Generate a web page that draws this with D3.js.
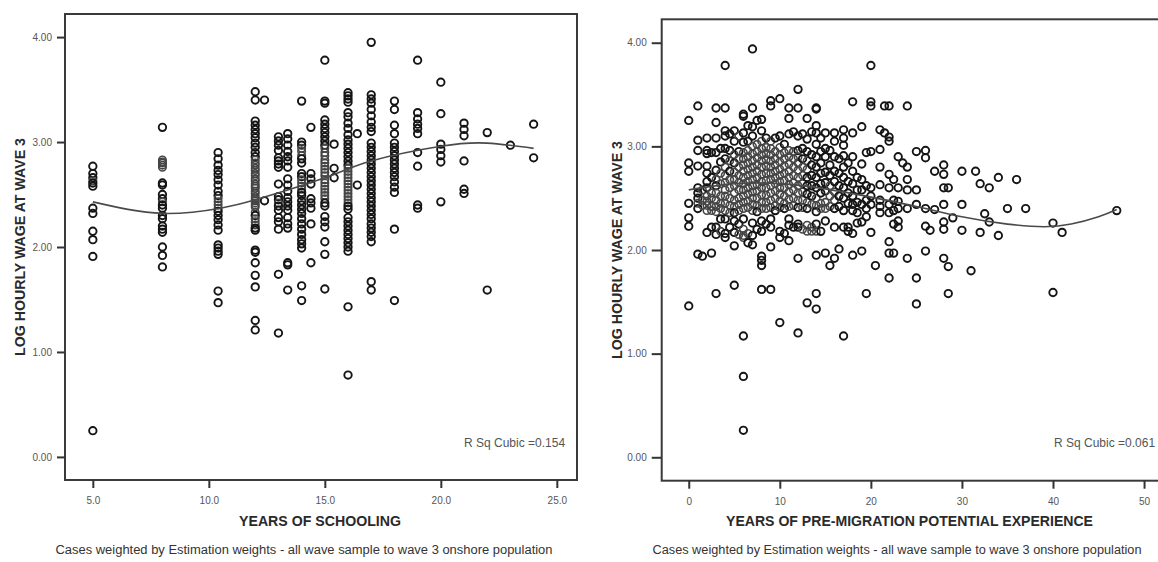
<!DOCTYPE html>
<html>
<head>
<meta charset="utf-8">
<script src="https://cdn.jsdelivr.net/npm/d3@7"></script>
<style>
  html, body { margin: 0; padding: 0; background: #fff; }
  svg { display: block; }
  text { font-family: "Liberation Sans", Arial, sans-serif; }
</style>
</head>
<body>
<svg id="chart" width="1158" height="562"></svg>
<script>
// ---- Panel 1: log hourly wage by years of schooling (values grouped by x) ----
const schoolingYears = [5, 8, 10.4, 12, 12.4, 13, 13.4, 14, 14.4, 15, 15.4, 16, 16.4, 17, 18, 19, 20, 21, 22, 23, 24];
const schoolingWages = [
  [2.77, 2.70, 2.66, 2.63, 2.61, 2.58, 2.37, 2.32, 2.15, 2.07, 1.91, 0.25],
  [3.14, 2.83, 2.81, 2.80, 2.78, 2.76, 2.61, 2.59, 2.50, 2.46, 2.43, 2.40, 2.37, 2.30, 2.27, 2.20, 2.17, 2.14, 2.00, 1.92, 1.81],
  [2.90, 2.84, 2.78, 2.73, 2.69, 2.64, 2.59, 2.53, 2.49, 2.46, 2.43, 2.40, 2.37, 2.34, 2.30, 2.26, 2.21, 2.16, 2.02, 1.99, 1.96, 1.93, 1.58, 1.47],
  [3.48, 3.40, 3.20, 3.16, 3.12, 3.08, 3.04, 2.99, 2.95, 2.90, 2.86, 2.83, 2.80, 2.78, 2.75, 2.73, 2.70, 2.68, 2.65, 2.63, 2.60, 2.58, 2.56, 2.53, 2.51, 2.48, 2.46, 2.44, 2.42, 2.40, 2.38, 2.33, 2.30, 2.27, 2.24, 2.21, 2.18, 2.16, 1.97, 1.95, 1.85, 1.73, 1.62, 1.30, 1.21],
  [3.40, 2.44],
  [3.05, 3.01, 2.97, 2.92, 2.85, 2.82, 2.79, 2.76, 2.60, 2.48, 2.45, 2.42, 2.39, 2.35, 2.28, 2.24, 2.17, 1.74, 1.18],
  [3.08, 3.03, 2.97, 2.91, 2.86, 2.82, 2.76, 2.65, 2.59, 2.53, 2.47, 2.43, 2.39, 2.35, 2.28, 2.22, 2.18, 1.85, 1.83, 1.59],
  [3.39, 3.00, 2.97, 2.94, 2.91, 2.87, 2.84, 2.80, 2.70, 2.67, 2.64, 2.61, 2.58, 2.55, 2.52, 2.49, 2.44, 2.40, 2.36, 2.32, 2.27, 2.22, 2.17, 2.12, 2.07, 2.03, 1.99, 1.63, 1.49],
  [3.14, 2.70, 2.65, 2.60, 2.46, 2.42, 2.37, 2.22, 1.85],
  [3.78, 3.39, 3.37, 3.21, 3.17, 3.13, 3.09, 3.05, 3.01, 2.97, 2.94, 2.90, 2.87, 2.83, 2.80, 2.77, 2.74, 2.71, 2.68, 2.64, 2.61, 2.58, 2.55, 2.52, 2.49, 2.46, 2.42, 2.39, 2.29, 2.24, 2.19, 2.05, 1.93, 1.60],
  [2.98, 2.75, 2.66],
  [3.47, 3.44, 3.41, 3.38, 3.28, 3.24, 3.18, 3.13, 3.07, 3.02, 2.98, 2.94, 2.90, 2.86, 2.82, 2.78, 2.75, 2.72, 2.69, 2.66, 2.63, 2.60, 2.57, 2.54, 2.51, 2.48, 2.45, 2.42, 2.39, 2.36, 2.28, 2.24, 2.20, 2.16, 2.12, 2.08, 2.04, 2.00, 1.96, 1.43, 0.78],
  [3.08, 2.59],
  [3.95, 3.45, 3.41, 3.37, 3.31, 3.25, 3.19, 3.14, 3.10, 2.99, 2.95, 2.91, 2.87, 2.83, 2.79, 2.75, 2.71, 2.67, 2.63, 2.59, 2.55, 2.51, 2.47, 2.43, 2.39, 2.35, 2.31, 2.27, 2.22, 2.18, 2.14, 2.10, 2.05, 1.67, 1.59],
  [3.39, 3.31, 3.16, 3.08, 2.99, 2.95, 2.91, 2.87, 2.83, 2.79, 2.75, 2.71, 2.67, 2.62, 2.57, 2.52, 2.17, 1.49],
  [3.78, 3.28, 3.22, 3.17, 3.13, 3.08, 2.90, 2.77, 2.40, 2.37],
  [3.57, 3.27, 2.98, 2.93, 2.87, 2.81, 2.43],
  [3.18, 3.12, 3.06, 2.82, 2.55, 2.51],
  [3.09, 1.59],
  [2.97],
  [3.17, 2.85]
];
// cubic fit curve read at selected x positions
const schoolingFitX = [5, 8, 10.5, 12, 15, 17, 20, 22, 24];
const schoolingFitY = [2.43, 2.32, 2.37, 2.45, 2.66, 2.82, 2.96, 2.99, 2.94];

// ---- Panel 2: log hourly wage by pre-migration potential experience ----
const experienceYears = [0, 1, 1.5, 2, 2.5, 3, 3.5, 4, 4.5, 5, 5.5, 6, 6.5, 7, 7.5, 8, 8.5, 9, 9.5, 10, 10.5, 11, 11.5, 12, 12.5, 13, 13.5, 14, 14.5, 15, 15.5, 16, 16.5, 17, 17.5, 18, 18.5, 19, 19.5, 20, 20.5, 21, 21.5, 22, 22.5, 23, 23.5, 24, 25, 26, 26.5, 27, 28, 28.5, 29, 30, 31, 31.5, 32, 32.5, 33, 34, 35, 36, 37, 40, 41, 47];
const experienceWages = [
  [3.25, 2.84, 2.76, 2.45, 2.31, 2.23, 1.46],
  [3.39, 3.06, 2.96, 2.81, 2.60, 2.55, 2.50, 2.45, 2.40, 1.96],
  [2.58, 2.48, 2.43, 1.94],
  [3.08, 2.96, 2.93, 2.81, 2.74, 2.66, 2.60, 2.52, 2.47, 2.43, 2.38, 2.17],
  [2.94, 2.70, 2.55, 2.50, 2.42, 2.38, 2.22, 1.97],
  [3.37, 3.23, 3.08, 2.94, 2.77, 2.68, 2.62, 2.55, 2.48, 2.42, 2.37, 2.22, 2.15, 1.58],
  [2.98, 2.85, 2.74, 2.64, 2.52, 2.45, 2.40, 2.30, 2.18],
  [3.78, 3.37, 3.15, 3.10, 2.98, 2.88, 2.80, 2.72, 2.65, 2.58, 2.52, 2.45, 2.38, 2.30, 2.16, 2.12],
  [3.12, 2.96, 2.86, 2.76, 2.68, 2.60, 2.50, 2.43, 2.36, 2.22],
  [3.15, 3.05, 2.92, 2.84, 2.75, 2.68, 2.62, 2.55, 2.48, 2.42, 2.36, 2.28, 2.17, 2.04, 1.66],
  [3.10, 2.95, 2.88, 2.80, 2.72, 2.65, 2.58, 2.50, 2.44, 2.38, 2.25, 2.15],
  [3.31, 3.29, 3.13, 3.04, 2.94, 2.88, 2.82, 2.76, 2.70, 2.64, 2.58, 2.52, 2.46, 2.40, 2.30, 2.20, 2.14, 2.12, 1.17, 0.78, 0.26],
  [3.20, 3.05, 2.96, 2.90, 2.84, 2.78, 2.72, 2.66, 2.60, 2.54, 2.47, 2.41, 2.16, 2.07],
  [3.94, 3.37, 3.19, 3.10, 3.00, 2.93, 2.86, 2.80, 2.74, 2.68, 2.62, 2.56, 2.50, 2.44, 2.38, 2.26, 2.14, 2.05],
  [3.25, 3.02, 2.95, 2.89, 2.82, 2.76, 2.70, 2.63, 2.57, 2.50, 2.43, 2.37, 2.20],
  [3.26, 3.15, 3.05, 2.98, 2.92, 2.86, 2.80, 2.73, 2.66, 2.60, 2.53, 2.46, 2.40, 2.28, 2.18, 1.94, 1.90, 1.85, 1.62],
  [3.08, 2.99, 2.93, 2.87, 2.81, 2.74, 2.67, 2.60, 2.53, 2.46, 2.40, 2.25],
  [3.44, 3.39, 3.05, 2.98, 2.92, 2.86, 2.80, 2.74, 2.68, 2.62, 2.55, 2.48, 2.41, 2.30, 2.22, 2.03, 1.62],
  [3.08, 2.95, 2.88, 2.82, 2.76, 2.70, 2.64, 2.57, 2.50, 2.43, 2.38],
  [3.46, 3.10, 2.99, 2.92, 2.85, 2.78, 2.72, 2.66, 2.60, 2.54, 2.47, 2.41, 2.18, 2.12, 1.30],
  [3.02, 2.94, 2.88, 2.81, 2.74, 2.67, 2.60, 2.52, 2.45, 2.40, 2.16],
  [3.37, 3.27, 3.12, 2.96, 2.90, 2.83, 2.76, 2.70, 2.63, 2.56, 2.49, 2.42, 2.30, 2.24, 2.09],
  [3.14, 2.95, 2.88, 2.80, 2.72, 2.65, 2.58, 2.50, 2.43, 2.22],
  [3.55, 3.37, 3.10, 2.96, 2.90, 2.84, 2.77, 2.70, 2.62, 2.55, 2.48, 2.41, 2.25, 2.22, 1.92, 1.20],
  [3.12, 2.98, 2.88, 2.80, 2.72, 2.64, 2.56, 2.48, 2.41, 2.20],
  [3.27, 3.07, 2.95, 2.86, 2.78, 2.70, 2.62, 2.54, 2.46, 2.40, 2.24, 2.18, 1.49],
  [3.14, 2.92, 2.82, 2.72, 2.62, 2.52, 2.44, 2.22, 2.18],
  [3.37, 3.36, 3.20, 3.13, 3.02, 2.90, 2.80, 2.70, 2.60, 2.50, 2.43, 2.37, 2.25, 2.18, 1.95, 1.58, 1.43],
  [3.08, 2.95, 2.84, 2.74, 2.64, 2.55, 2.45, 2.40, 2.18],
  [3.13, 2.98, 2.90, 2.75, 2.65, 2.57, 2.46, 2.40, 2.28, 1.97],
  [2.96, 2.82, 2.72, 2.62, 2.52, 2.42, 1.85],
  [3.13, 3.05, 2.90, 2.76, 2.66, 2.56, 2.48, 2.40, 2.22, 1.92],
  [2.88, 2.74, 2.62, 2.52, 2.42, 2.01],
  [3.16, 3.08, 3.01, 2.91, 2.80, 2.70, 2.60, 2.50, 2.38, 2.22, 1.17],
  [2.84, 2.66, 2.55, 2.45, 2.22, 2.18],
  [3.43, 3.13, 2.90, 2.76, 2.64, 2.52, 2.44, 2.38, 2.16, 1.95],
  [2.70, 2.58, 2.46, 2.36, 2.26],
  [3.19, 2.83, 2.68, 2.58, 2.44, 2.27, 1.99],
  [2.94, 2.62, 2.48, 2.40, 2.32, 1.58],
  [3.78, 3.43, 3.39, 2.95, 2.60, 2.52, 2.44, 2.17],
  [1.85],
  [3.16, 2.97, 2.80, 2.63, 2.48, 2.42, 2.36],
  [3.39, 3.13],
  [3.39, 3.09, 3.05, 2.73, 2.60, 2.44, 2.36, 2.08, 1.97, 1.73],
  [2.68, 2.48, 2.38, 2.25, 1.97],
  [2.90, 2.60, 2.47, 2.40, 2.28, 2.22],
  [2.84],
  [3.39, 2.80, 2.68, 2.58, 2.40, 1.92],
  [2.95, 2.58, 2.44, 1.73, 1.48],
  [2.96, 2.89, 2.40, 2.23, 1.99],
  [2.19],
  [2.76, 2.39],
  [2.82, 2.73, 2.60, 2.44, 2.27, 2.20, 1.92],
  [2.60, 1.84, 1.58],
  [2.31],
  [2.76, 2.44, 2.19],
  [1.80],
  [2.76],
  [2.64, 2.17],
  [2.35],
  [2.60, 2.27],
  [2.70, 2.14],
  [2.40],
  [2.68],
  [2.40],
  [2.26, 1.59],
  [2.17],
  [2.38]
];
const experienceFitX = [0, 5, 10, 15, 20, 25, 30, 35, 39, 42, 45, 47];
const experienceFitY = [2.58, 2.64, 2.64, 2.59, 2.51, 2.42, 2.32, 2.25, 2.225, 2.25, 2.32, 2.39];

const yTicks = [0, 1, 2, 3, 4];
const schoolingTicks = [5, 10, 15, 20, 25];
const experienceTicks = [0, 10, 20, 30, 40, 50];

const yAxisTitle = "LOG HOURLY WAGE AT WAVE 3";
const footnote = "Cases weighted by Estimation weights - all wave sample to wave 3 onshore population";

const svg = d3.select("#chart");

function drawPanel(cfg) {
  const x = d3.scaleLinear().domain(cfg.xDomain).range([cfg.left, cfg.right]);
  const y = d3.scaleLinear().domain(cfg.yDomain).range([cfg.bottom, cfg.top]);
  const g = svg.append("g");

  // plot frame
  g.append("rect")
    .attr("x", cfg.left).attr("y", cfg.top)
    .attr("width", cfg.right - cfg.left).attr("height", cfg.bottom - cfg.top)
    .attr("fill", "none").attr("stroke", "#3a3a3a").attr("stroke-width", 2);

  // y axis
  const yAxis = d3.axisLeft(y).tickValues(yTicks).tickFormat(d3.format(".2f"))
    .tickSize(cfg.yTickLen).tickPadding(5);
  const ya = g.append("g").attr("transform", `translate(${cfg.left},0)`).call(yAxis);
  ya.select(".domain").remove();
  ya.selectAll("line").attr("stroke", "#333").attr("stroke-width", 2);
  ya.selectAll("text").attr("fill", "#555").style("font-size", "10px");

  // x axis
  const xAxis = d3.axisBottom(x).tickValues(cfg.xTicks).tickFormat(cfg.xFormat)
    .tickSize(8).tickPadding(9);
  const xa = g.append("g").attr("transform", `translate(0,${cfg.bottom})`).call(xAxis);
  xa.select(".domain").remove();
  xa.selectAll("line").attr("stroke", "#333").attr("stroke-width", 2);
  xa.selectAll("text").attr("fill", "#555").style("font-size", "10px");

  // points: rings in crowded areas are drawn a little lighter
  const pts = cfg.xs.flatMap((xv, i) => cfg.ys[i].map(v => ({ px: x(xv), py: y(v) })));
  pts.forEach(p => {
    let n = 0;
    for (const q of pts) {
      if (q !== p && Math.hypot(q.px - p.px, q.py - p.py) < 8) n++;
    }
    p.dense = n >= 4;
  });
  g.append("g").selectAll("circle").data(pts).join("circle")
    .attr("cx", d => d.px).attr("cy", d => d.py).attr("r", 3.7)
    .attr("fill", "none")
    .attr("stroke", d => d.dense ? "#454545" : "#151515")
    .attr("stroke-width", d => d.dense ? 1.6 : 1.9);

  // cubic fit line
  const line = d3.line().x(d => x(d[0])).y(d => y(d[1])).curve(d3.curveNatural);
  g.append("path").datum(d3.zip(cfg.fitX, cfg.fitY))
    .attr("d", line).attr("fill", "none")
    .attr("stroke", "#4a4a4a").attr("stroke-width", 1.6);

  // titles
  g.append("text")
    .attr("transform", `translate(${cfg.yTitleX},${(cfg.top + cfg.bottom) / 2}) rotate(-90)`)
    .attr("text-anchor", "middle").attr("dy", "0.36em")
    .attr("textLength", 218).attr("lengthAdjust", "spacingAndGlyphs")
    .attr("fill", "#2a2a2a").style("font-size", "15px").style("font-weight", "bold")
    .text(yAxisTitle);
  g.append("text")
    .attr("x", cfg.xTitleX).attr("y", 526).attr("text-anchor", "middle")
    .attr("textLength", cfg.xTitleLen).attr("lengthAdjust", "spacingAndGlyphs")
    .attr("fill", "#2a2a2a").style("font-size", "15px").style("font-weight", "bold")
    .text(cfg.xTitle);
  g.append("text")
    .attr("x", cfg.noteX).attr("y", 554).attr("text-anchor", "middle")
    .attr("textLength", cfg.noteLen).attr("lengthAdjust", "spacingAndGlyphs")
    .attr("fill", "#333").style("font-size", "12px")
    .text(footnote);
  g.append("text")
    .attr("x", cfg.rsqX).attr("y", 447).attr("text-anchor", "start")
    .attr("fill", "#555").style("font-size", "12px")
    .text(cfg.rsq);
}

drawPanel({
  left: 65, right: 577, top: 14, bottom: 480,
  xDomain: [3.8, 25.87], yDomain: [-0.22, 4.22],
  xTicks: schoolingTicks, xFormat: d3.format(".1f"), yTickLen: 8,
  xs: schoolingYears, ys: schoolingWages,
  fitX: schoolingFitX, fitY: schoolingFitY,
  yTitleX: 20, xTitle: "YEARS OF SCHOOLING", xTitleX: 320, xTitleLen: 162,
  noteX: 304, noteLen: 497,
  rsq: "R Sq Cubic =0.154", rsqX: 464
});

drawPanel({
  left: 661.7, right: 1165, top: 19.3, bottom: 480.7,
  xDomain: [-2.97, 52.3], yDomain: [-0.226, 4.226],
  xTicks: experienceTicks, xFormat: d3.format("d"), yTickLen: 10,
  xs: experienceYears, ys: experienceWages,
  fitX: experienceFitX, fitY: experienceFitY,
  yTitleX: 617, xTitle: "YEARS OF PRE-MIGRATION POTENTIAL EXPERIENCE", xTitleX: 909.5, xTitleLen: 367,
  noteX: 897, noteLen: 489,
  rsq: "R Sq Cubic =0.061", rsqX: 1054
});
</script>
</body>
</html>
